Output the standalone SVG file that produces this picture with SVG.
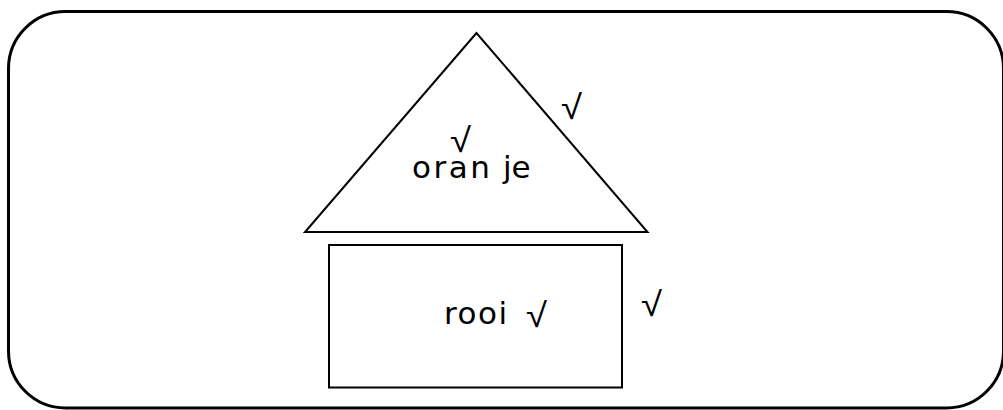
<svg xmlns="http://www.w3.org/2000/svg" width="1003" height="410" viewBox="0 0 1003 410">
<style>
.lbl{font-family:"DejaVu Sans","Liberation Sans",sans-serif;font-size:31px;fill:#000}
.chk{font-family:"Liberation Sans","DejaVu Sans",sans-serif;font-size:34px;fill:#000}
.shape{fill:#fff;stroke:#000;stroke-width:2}
</style>
<rect width="1003" height="410" fill="#fff"/>
<g id="frame"><rect x="8.5" y="11.5" width="995" height="396.5" rx="57" ry="57" fill="none" stroke="#000" stroke-width="3"/></g>
<g id="roof">
<polygon class="shape" points="476.5,33 305,232 647.5,232"/>
<text class="lbl" x="412" y="178"><tspan x="412" letter-spacing="2.5">oran</tspan> <tspan x="503">je</tspan></text>
<text class="chk" x="450" y="152" textLength="21" lengthAdjust="spacingAndGlyphs">√</text>
</g>
<g id="wall">
<rect class="shape" x="329" y="245" width="293" height="142.5"/>
<text class="lbl" x="444" y="324" letter-spacing="1.5">rooi</text>
<text class="chk" x="526" y="327" textLength="21" lengthAdjust="spacingAndGlyphs">√</text>
</g>
<g id="marks">
<text class="chk" x="561" y="119" textLength="21" lengthAdjust="spacingAndGlyphs">√</text>
<text class="chk" x="641" y="316" textLength="21" lengthAdjust="spacingAndGlyphs">√</text>
</g>
<g id="connectors"></g>
</svg>
